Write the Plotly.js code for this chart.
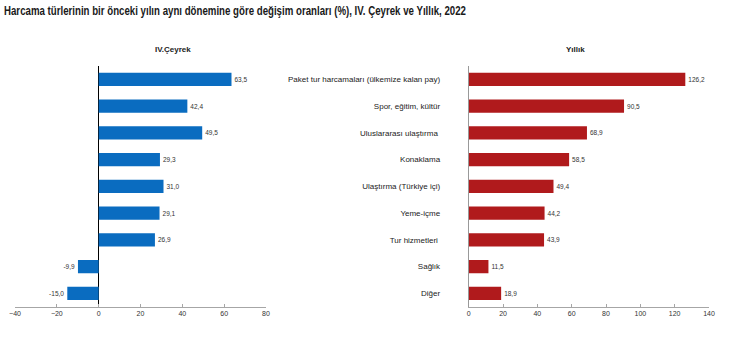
<!DOCTYPE html>
<html>
<head>
<meta charset="utf-8">
<script src="https://cdn.plot.ly/plotly-3.0.1.min.js"></script>
<style>html,body{margin:0;padding:0;background:#fff;}</style>
</head>
<body>
<div id="chart" style="width:748px;height:354px;"></div>
<script>
const categories = [
  "Paket tur harcamaları (ülkemize kalan pay)",
  "Spor, eğitim, kültür",
  "Uluslararası ulaştırma ",
  "Konaklama",
  "Ulaştırma (Türkiye içi)",
  "Yeme-içme",
  "Tur hizmetleri ",
  "Sağlık",
  "Diğer"
];
const quarterValues = [63.5, 42.4, 49.5, 29.3, 31.0, 29.1, 26.9, -9.9, -15.0];
const annualValues = [126.2, 90.5, 68.9, 58.5, 49.4, 44.2, 43.9, 11.5, 18.9];
const quarterTitle = "IV.Çeyrek";
const annualTitle = "Yıllık";
const mainTitle = "Harcama türlerinin bir önceki yılın aynı dönemine göre değişim oranları (%), IV. Çeyrek ve Yıllık, 2022";

const W = 748, H = 354;
const plotTop = 66, plotBottom = 306.7;
const yDom = [1 - plotBottom / H, 1 - plotTop / H];
const font = "Liberation Sans, Arial, sans-serif";

const traces = [
  {
    type: "bar", orientation: "h",
    x: quarterValues, y: categories,
    xaxis: "x", yaxis: "y",
    marker: {color: "#0a6cc0"},
    texttemplate: "%{x:.1f}", textposition: "outside",
    textfont: {size: 6.5, color: "#333", family: font},
    cliponaxis: false, hoverinfo: "skip"
  },
  {
    type: "bar", orientation: "h",
    x: annualValues, y: categories,
    xaxis: "x2", yaxis: "y2",
    marker: {color: "#b01a1c"},
    texttemplate: "%{x:.1f}", textposition: "outside",
    textfont: {size: 6.5, color: "#333", family: font},
    cliponaxis: false, hoverinfo: "skip"
  }
];

const xCommon = {
  showgrid: false, showline: true, linecolor: "#a6a6a6", linewidth: 1,
  ticks: "inside", ticklen: 3, tickcolor: "#a6a6a6", dtick: 20,
  tickfont: {size: 7, color: "#333", family: font},
  fixedrange: true
};

const layout = {
  width: W, height: H,
  margin: {l: 0, r: 0, t: 0, b: 0},
  paper_bgcolor: "#fff", plot_bgcolor: "#fff",
  separators: ",.",
  showlegend: false,
  bargap: 0.5,
  title: {
    text: "<b>" + mainTitle + "</b>",
    x: 4 / W, xanchor: "left", y: 1 - 10 / H, yanchor: "middle",
    font: {size: 13, color: "#1a1a1a", family: font}
  },
  xaxis: Object.assign({}, xCommon, {
    domain: [15 / W, 266 / W], range: [-40, 80], anchor: "y",
    zeroline: true, zerolinecolor: "#000", zerolinewidth: 1
  }),
  yaxis: {
    domain: yDom, anchor: "x", autorange: "reversed",
    showticklabels: false, showline: false, showgrid: false, ticks: "", fixedrange: true
  },
  xaxis2: Object.assign({}, xCommon, {
    domain: [468.7 / W, 709 / W], range: [0, 140], anchor: "y2", zeroline: false
  }),
  yaxis2: {
    domain: yDom, anchor: "x2", autorange: "reversed",
    showline: true, linecolor: "#999", linewidth: 1, showgrid: false,
    ticks: "", ticklabelstandoff: 26,
    tickfont: {size: 8, color: "#222", family: font}, fixedrange: true
  },
  annotations: [
    {text: "<b>" + quarterTitle + "</b>", xref: "paper", yref: "paper", x: 173 / W, y: 1 - 49 / H,
     xanchor: "center", yanchor: "middle", showarrow: false,
     font: {size: 8, color: "#222", family: font}},
    {text: "<b>" + annualTitle + "</b>", xref: "paper", yref: "paper", x: 575 / W, y: 1 - 49 / H,
     xanchor: "center", yanchor: "middle", showarrow: false,
     font: {size: 8, color: "#222", family: font}}
  ]
};

Plotly.newPlot("chart", traces, layout, {displayModeBar: false, staticPlot: true}).then(function (gd) {
  // condensed (narrow) look of the reference title
  const t = gd.querySelector(".gtitle");
  if (t) t.setAttribute("transform", "translate(4,0) scale(0.745,1) translate(-4,0)");
});
</script>
</body>
</html>
